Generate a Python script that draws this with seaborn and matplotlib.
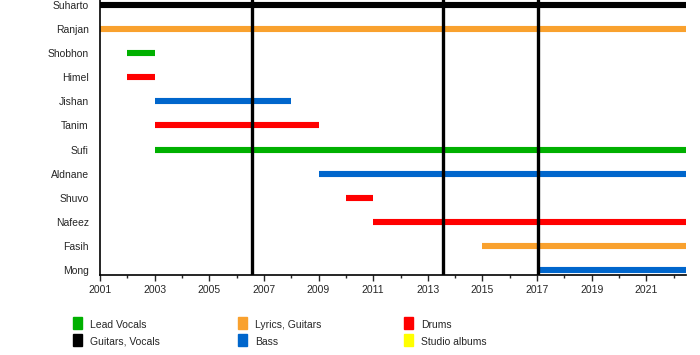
import matplotlib
matplotlib.use("Agg")
import matplotlib.pyplot as plt
import seaborn as sns
import pandas as pd
from matplotlib.patches import Rectangle

# band members timeline data
members = ["Suharto", "Ranjan", "Shobhon", "Himel", "Jishan", "Tanim",
           "Sufi", "Aldnane", "Shuvo", "Nafeez", "Fasih", "Mong"]
start = [2001, 2001, 2002, 2002, 2003, 2003, 2003, 2009, 2010, 2011, 2015, 2017.05]
end = [2022.45, 2022.45, 2003, 2003, 2008, 2009, 2022.45, 2022.45, 2011, 2022.45, 2022.45, 2022.45]
role = ["Guitars, Vocals", "Lyrics, Guitars", "Lead Vocals", "Drums", "Bass", "Drums",
        "Lead Vocals", "Bass", "Drums", "Drums", "Lyrics, Guitars", "Bass"]
albums = [2006.55, 2013.55, 2017.05]

legend_roles = ["Lead Vocals", "Guitars, Vocals", "Lyrics, Guitars", "Bass", "Drums", "Studio albums"]
colors = {"Lead Vocals": "#00b000", "Guitars, Vocals": "#000000",
          "Lyrics, Guitars": "#f9a12e", "Bass": "#0066cc",
          "Drums": "#ff0000", "Studio albums": "#ffff00"}

df = pd.DataFrame({"member": members, "start": start, "end": end, "role": role})

sns.set_style("ticks")
plt.rcParams["font.family"] = ["Liberation Sans", "DejaVu Sans"]

fig = plt.figure(figsize=(7, 3.55), dpi=100)
ax = fig.add_axes([100/700, 1 - 275/355, 586/700, 275/355])

for i, r in df.iterrows():
    ax.hlines(i, r["start"], r["end"], color=colors[r["role"]], linewidth=4.4)

for a in albums:
    ax.axvline(a, color="black", linewidth=2.4, zorder=3)

ax.set_xlim(2001, 2022.45)
ax.set_ylim(11.2, -0.2)
ax.set_yticks(range(len(members)))
ax.set_yticklabels(members, fontsize=7.5)
ax.tick_params(axis="y", length=0, pad=8)
ax.set_xticks(range(2001, 2023, 2))
ax.set_xticks(range(2002, 2023, 2), minor=True)
ax.tick_params(axis="x", which="major", length=4, width=1, labelsize=7.5, pad=3)
ax.tick_params(axis="x", which="minor", length=2, width=1)
for s in ["top", "right"]:
    ax.spines[s].set_visible(False)
for s in ["left", "bottom"]:
    ax.spines[s].set_linewidth(1.2)
    ax.spines[s].set_color("black")

# legend, three columns
col_x = [73, 238, 404]
row_y = [325, 342]
for k, name in enumerate(legend_roles):
    cx = col_x[k // 2]
    cy = row_y[k % 2]
    fig.add_artist(Rectangle((cx/700, 1 - (cy + 4)/355), 9/700, 12/355,
                             color=colors[name], transform=fig.transFigure))
    fig.text((cx + 17)/700, 1 - cy/355, name, fontsize=7.5, va="center", ha="left",
             family=["Liberation Sans Narrow", "Liberation Sans", "DejaVu Sans"])

fig.savefig("out.png", dpi=100)
